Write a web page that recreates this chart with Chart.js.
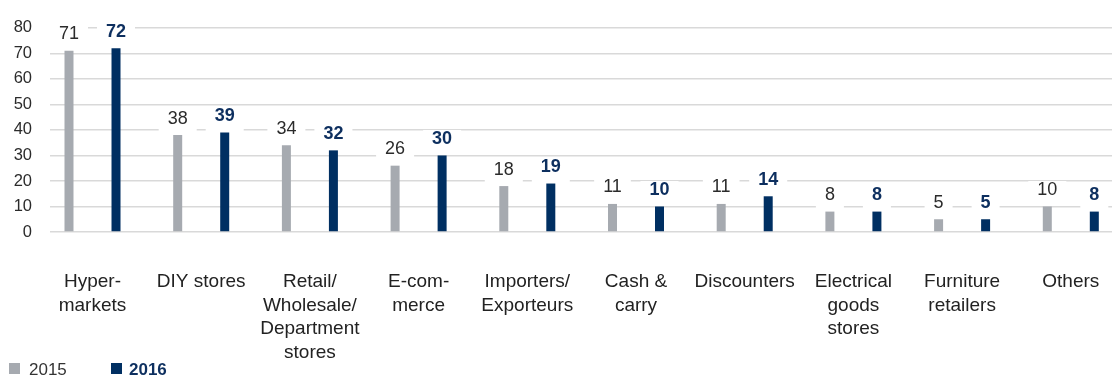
<!DOCTYPE html>
<html>
<head>
<meta charset="utf-8">
<script src="https://cdn.jsdelivr.net/npm/chart.js@4/dist/chart.umd.min.js"></script>
<style>
    html, body { margin: 0; padding: 0; background: #fff; overflow: hidden; }
    #wrap { position: relative; width: 1112px; height: 376px; }
    canvas { position: absolute; left: 0; top: 0; }
    .legend { position: absolute; font-family: "Liberation Sans", Arial, sans-serif; font-size: 17px; line-height: 17px; }
    .legend .box { position: absolute; width: 11px; height: 11px; }
    .legend .txt { position: absolute; white-space: nowrap; }
</style>
</head>
<body>
<div id="wrap">
    <canvas id="chart" width="1112" height="376"></canvas>
    <div class="legend" style="left:0;top:0;">
        <span class="box" style="left:9px;top:363px;background:#a6aab0;"></span>
        <span class="txt" style="left:29px;top:361px;color:#333;">2015</span>
        <span class="box" style="left:111px;top:363px;background:#002f62;"></span>
        <span class="txt" style="left:129px;top:361px;color:#0d2f5f;font-weight:bold;">2016</span>
    </div>
</div>
<script>
const categories = [
    ['Hyper-', 'markets'],
    ['DIY stores'],
    ['Retail/', 'Wholesale/', 'Department', 'stores'],
    ['E-com-', 'merce'],
    ['Importers/', 'Exporteurs'],
    ['Cash &', 'carry'],
    ['Discounters'],
    ['Electrical', 'goods', 'stores'],
    ['Furniture', 'retailers'],
    ['Others']
];
const values2015 = [71, 38, 34, 26, 18, 11, 11, 8, 5, 10];
const values2016 = [72, 39, 32, 30, 19, 10, 14, 8, 5, 8];
const yTicks = [0, 10, 20, 30, 40, 50, 60, 70, 80];

const FONT = '"Liberation Sans", Arial, sans-serif';

// value labels sit on a white box that cuts the grid lines
const valueLabels = {
    id: 'valueLabels',
    boxes(chart, cb) {
        chart.data.datasets.forEach((ds, di) => {
            const meta = chart.getDatasetMeta(di);
            meta.data.forEach((bar, i) => cb(ds, bar, String(ds.data[i].y)));
        });
    },
    beforeDatasetsDraw(chart) {
        const ctx = chart.ctx;
        ctx.save();
        this.boxes(chart, (ds, bar, text) => {
            ctx.font = ds.labelFont;
            const w = ctx.measureText(text).width;
            const base = bar.y - 11.5;
            ctx.fillStyle = '#fff';
            ctx.fillRect(bar.x - w / 2 - 9, base - 14, w + 18, bar.y - 1 - (base - 14));
        });
        ctx.restore();
    },
    afterDatasetsDraw(chart) {
        const ctx = chart.ctx;
        ctx.save();
        ctx.textAlign = 'center';
        ctx.textBaseline = 'alphabetic';
        this.boxes(chart, (ds, bar, text) => {
            ctx.font = ds.labelFont;
            ctx.fillStyle = ds.labelColor;
            ctx.fillText(text, bar.x, bar.y - 11.5);
        });
        ctx.restore();
    }
};

new Chart(document.getElementById('chart'), {
    type: 'bar',
    data: {
        datasets: [
            {
                label: '2015',
                data: values2015.map((v, i) => ({ x: i, y: v })),
                backgroundColor: '#a6aab0',
                labelColor: '#2b2b2b',
                labelFont: '18px ' + FONT
            },
            {
                label: '2016',
                data: values2016.map((v, i) => ({ x: i, y: v })),
                backgroundColor: '#002f62',
                labelColor: '#0d2f5f',
                labelFont: 'bold 18px ' + FONT
            }
        ]
    },
    options: {
        responsive: false,
        animation: false,
        events: [],
        layout: { padding: { top: 22, left: 0, right: 0, bottom: 0 } },
        datasets: {
            bar: {
                categoryPercentage: 0.865,
                barPercentage: 1,
                maxBarThickness: 9,
                clip: false
            }
        },
        scales: {
            x: {
                type: 'linear',
                offset: false,
                min: -0.391,
                max: 9.379,
                afterFit(scale) {
                    scale.height = 144;
                    scale.paddingLeft = 0;
                    scale.paddingRight = 0;
                },
                afterBuildTicks(scale) {
                    scale.ticks = categories.map((c, i) => ({ value: i }));
                },
                grid: { display: false },
                border: { display: false },
                ticks: {
                    padding: 30,
                    color: '#222',
                    font: { family: FONT, size: 19, lineHeight: 1.24 },
                    maxRotation: 0,
                    autoSkip: false,
                    callback: (v) => categories[v]
                }
            },
            y: {
                min: 0,
                max: 80,
                afterFit(scale) { scale.width = 50; },
                afterBuildTicks(scale) {
                    scale.ticks = yTicks.map((v) => ({ value: v }));
                },
                grid: { color: '#d9d9d9', lineWidth: 1.5, drawTicks: false },
                border: { display: false },
                ticks: {
                    padding: 18,
                    color: '#2b2b2b',
                    font: { family: FONT, size: 16.5 }
                }
            }
        },
        plugins: {
            legend: { display: false },
            tooltip: { enabled: false }
        }
    },
    plugins: [valueLabels]
});
</script>
</body>
</html>
